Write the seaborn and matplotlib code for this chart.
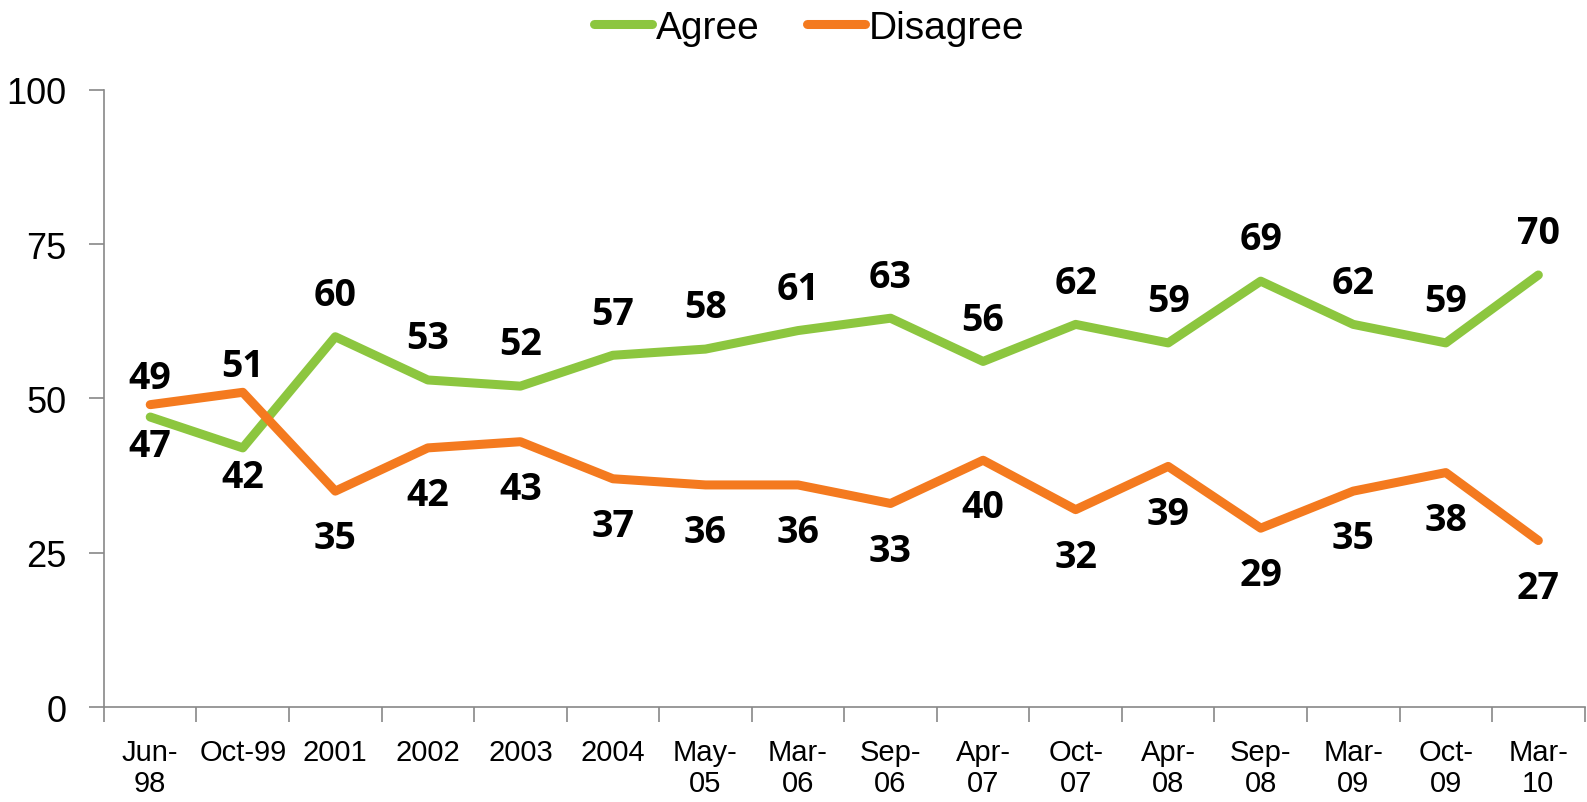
import pandas as pd
import matplotlib.pyplot as plt
import seaborn as sns

# data
periods = ['Jun-\n98', 'Oct-99', '2001', '2002', '2003', '2004', 'May-\n05', 'Mar-\n06',
           'Sep-\n06', 'Apr-\n07', 'Oct-\n07', 'Apr-\n08', 'Sep-\n08', 'Mar-\n09', 'Oct-\n09', 'Mar-\n10']
agree = [47, 42, 60, 53, 52, 57, 58, 61, 63, 56, 62, 59, 69, 62, 59, 70]
disagree = [49, 51, 35, 42, 43, 37, 36, 36, 33, 40, 32, 39, 29, 35, 38, 27]

green = '#8cc63f'
orange = '#f47a1f'

df = pd.DataFrame({'pos': list(range(len(periods))) * 2,
                   'value': agree + disagree,
                   'series': ['Agree'] * len(agree) + ['Disagree'] * len(disagree)})

sns.set_style('white')
plt.rcParams['font.family'] = ['Liberation Sans', 'DejaVu Sans']
plt.rcParams['text.color'] = 'black'
plt.rcParams['xtick.color'] = 'black'
plt.rcParams['ytick.color'] = 'black'

fig = plt.figure(figsize=(15.87, 8.03), dpi=100)
ax = fig.add_axes([0.0655, 0.118, 0.933, 0.769])

sns.lineplot(data=df, x='pos', y='value', hue='series', palette=[green, orange],
             linewidth=6.5, ax=ax, legend=False, solid_capstyle='round')

# data labels (closer to the line where the orange line is on top)
for i, (a, d) in enumerate(zip(agree, disagree)):
    if a >= d:
        off_a, off_d = 30, -34
    else:
        off_a, off_d = -21, 19
    ax.annotate(str(a), (i, a), xytext=(0, off_a), textcoords='offset points',
                ha='center', va='center', fontsize=27, fontweight='bold', family='Open Sans')
    ax.annotate(str(d), (i, d), xytext=(0, off_d), textcoords='offset points',
                ha='center', va='center', fontsize=27, fontweight='bold', family='Open Sans')

ax.set_xlim(-0.5, len(periods) - 0.5)
ax.set_ylim(0, 100)
ax.set_yticks([0, 25, 50, 75, 100])
ax.set_xticks(range(len(periods)))
ax.set_xticklabels(periods, fontsize=21, linespacing=1.15)
ax.tick_params(axis='x', length=0, pad=22, colors='black')
ax.tick_params(axis='y', labelsize=26, length=11, width=1.2, color='#888888', labelcolor='black',
               direction='out', pad=16, left=True)
ax.set_xticks([i - 0.5 for i in range(len(periods) + 1)], minor=True)
ax.tick_params(axis='x', which='minor', length=11, width=1.2, color='#888888', direction='out', bottom=True)
ax.set_xlabel('')
ax.set_ylabel('')

for s in ['top', 'right']:
    ax.spines[s].set_visible(False)
for s in ['left', 'bottom']:
    ax.spines[s].set_color('#888888')
    ax.spines[s].set_linewidth(1.2)

handles = [plt.Line2D([], [], color=green, lw=6.5, solid_capstyle='round'),
           plt.Line2D([], [], color=orange, lw=6.5, solid_capstyle='round')]
fig.legend(handles, ['Agree', 'Disagree'], loc='upper center', bbox_to_anchor=(0.51, 1.03),
           ncol=2, frameon=False, fontsize=28, handlelength=1.5, handletextpad=0.1, columnspacing=1.2)

fig.savefig('out.png', dpi=100)
